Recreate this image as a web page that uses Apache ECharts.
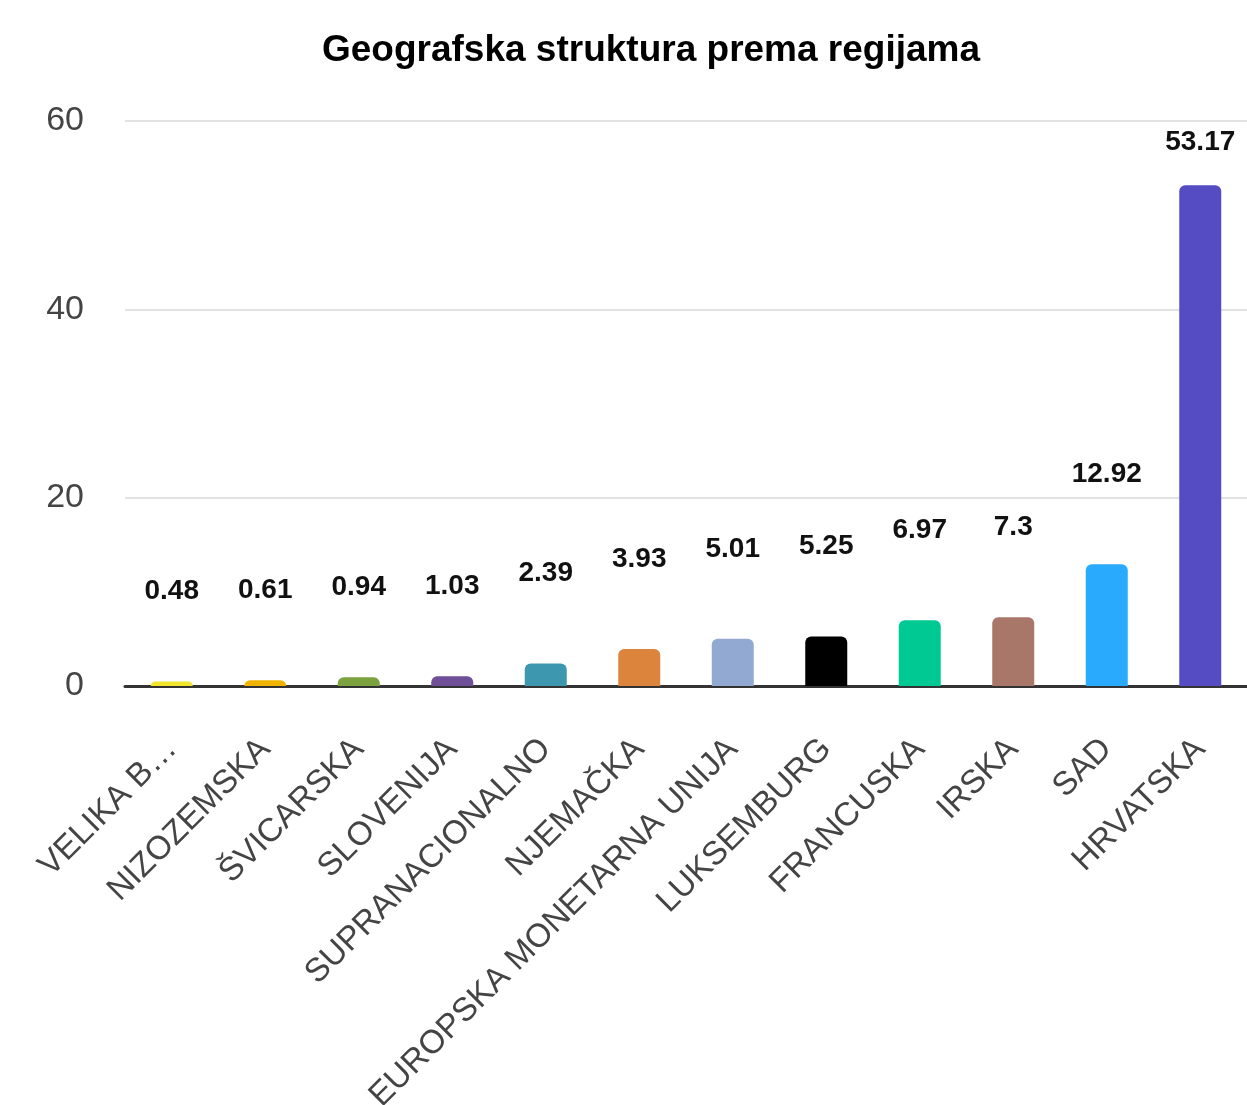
<!DOCTYPE html>
<html>
<head>
<meta charset="utf-8">
<script src="https://cdn.jsdelivr.net/npm/echarts@6/dist/echarts.min.js"></script>
<style>
html,body{margin:0;padding:0;background:#fff;}
#chart{width:1247px;height:1105px;}
</style>
</head>
<body>
<div id="chart"></div>
<script>
const chartTitle = 'Geografska struktura prema regijama';
const categories = ['VELIKA B…', 'NIZOZEMSKA', 'ŠVICARSKA', 'SLOVENIJA', 'SUPRANACIONALNO', 'NJEMAČKA', 'EUROPSKA MONETARNA UNIJA', 'LUKSEMBURG', 'FRANCUSKA', 'IRSKA', 'SAD', 'HRVATSKA'];
const values = [0.48, 0.61, 0.94, 1.03, 2.39, 3.93, 5.01, 5.25, 6.97, 7.3, 12.92, 53.17];
const barColors = ['#f2e52c', '#f0b400', '#7ba23f', '#6f4f98', '#3d97ae', '#dc843c', '#92a9d2', '#000000', '#00c994', '#a9766a', '#2aaafc', '#554cc4'];
const yTicks = [0, 20, 40, 60];

const chart = echarts.init(document.getElementById('chart'));
const data = values.map((v, i) => ({
  value: v,
  itemStyle: { color: barColors[i] },
  label: { distance: v > 45 ? 29 : 76 }
}));

chart.setOption({
  animation: false,
  title: {
    text: chartTitle,
    left: 317,
    top: 27,
    textStyle: { fontFamily: 'Liberation Sans, Arial, sans-serif', fontSize: 37, fontWeight: 'bold', color: '#000' }
  },
  grid: { left: 125, right: 0, top: 121, bottom: 419, containLabel: false, outerBoundsMode: 'none' },
  xAxis: {
    type: 'category',
    data: categories,
    axisLine: { show: true, lineStyle: { color: '#333', width: 3 } },
    axisTick: { show: false },
    axisLabel: {
      rotate: 45,
      interval: 0,
      margin: 58,
      fontFamily: 'Liberation Sans, Arial, sans-serif',
      fontSize: 33,
      color: '#444'
    }
  },
  yAxis: {
    type: 'value',
    min: yTicks[0],
    max: yTicks[yTicks.length - 1],
    interval: yTicks[1] - yTicks[0],
    axisLine: { show: false },
    axisTick: { show: false },
    splitLine: { lineStyle: { color: '#e2e2e2', width: 2 } },
    axisLabel: {
      margin: 41,
      padding: [6, 0, 0, 0],
      fontFamily: 'Liberation Sans, Arial, sans-serif',
      fontSize: 34,
      color: '#444'
    }
  },
  series: [{
    type: 'bar',
    data: data,
    barWidth: 42,
    itemStyle: { borderRadius: [6, 6, 0, 0] },
    label: {
      show: true,
      position: 'top',
      fontFamily: 'Liberation Sans, Arial, sans-serif',
      fontSize: 28,
      fontWeight: 'bold',
      color: '#111'
    }
  }]
});
</script>
</body>
</html>
